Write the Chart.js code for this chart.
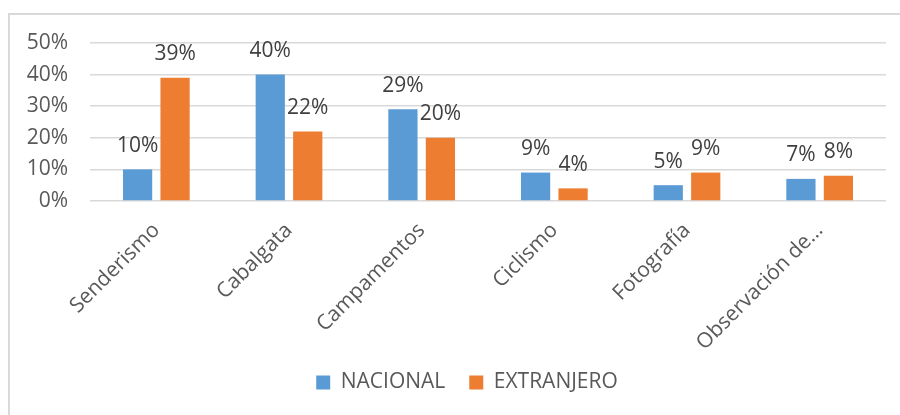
<!DOCTYPE html>
<html>
<head>
<meta charset="utf-8">
<script src="https://cdn.jsdelivr.net/npm/chart.js@4.4.1/dist/chart.umd.min.js"></script>
<style>
  html, body { margin: 0; padding: 0; background: #ffffff; }
  #wrap { width: 900px; height: 415px; position: relative; }
</style>
</head>
<body>
<div id="wrap"><canvas id="c" width="900" height="415"></canvas></div>
<script>
const categories = ['Senderismo', 'Cabalgata', 'Campamentos', 'Ciclismo', 'Fotografía', 'Observación de…'];
const nacional = [10, 40, 29, 9, 5, 7];
const extranjero = [39, 22, 20, 4, 9, 8];
const seriesNames = ['NACIONAL', 'EXTRANJERO'];

const FONT = "'Open Sans', sans-serif";

const framePlugin = {
  id: 'frame',
  afterLayout(chart) {
    if (chart.legend) {
      chart.legend.left += 24;
      chart.legend.right += 24;
    }
  },
  beforeDraw(chart) {
    const ctx = chart.ctx;
    ctx.save();
    ctx.fillStyle = '#ffffff';
    ctx.fillRect(0, 0, chart.width, chart.height);
    ctx.strokeStyle = '#d9d9d9';
    ctx.lineWidth = 2;
    ctx.beginPath();
    ctx.moveTo(9, chart.height + 2);
    ctx.lineTo(9, 14);
    ctx.lineTo(chart.width + 2, 14);
    ctx.stroke();
    ctx.restore();
  }
};

const labelPlugin = {
  id: 'barLabels',
  afterDatasetsDraw(chart) {
    const ctx = chart.ctx;
    ctx.save();
    ctx.font = '21px ' + FONT;
    ctx.fillStyle = '#404040';
    ctx.textAlign = 'center';
    ctx.textBaseline = 'bottom';
    chart.data.datasets.forEach((ds, i) => {
      const meta = chart.getDatasetMeta(i);
      meta.data.forEach((bar, j) => {
        ctx.fillText(ds.data[j] + '%', bar.x, bar.y - 13);
      });
    });
    ctx.restore();
  }
};

new Chart(document.getElementById('c'), {
  type: 'bar',
  data: {
    labels: categories,
    datasets: [
      { label: seriesNames[0], data: nacional, backgroundColor: '#5b9bd5' },
      { label: seriesNames[1], data: extranjero, backgroundColor: '#ed7d31' }
    ]
  },
  options: {
    responsive: false,
    animation: false,
    devicePixelRatio: 1,
    layout: { padding: { top: 43, right: 14, left: 0, bottom: 12 } },
    datasets: { bar: { categoryPercentage: 0.565, barPercentage: 0.78 } },
    scales: {
      x: {
        grid: { display: false },
        border: { display: false },
        ticks: {
          font: { family: FONT, size: 21 },
          color: '#595959',
          minRotation: 45,
          maxRotation: 45,
          padding: 9
        },
        afterFit(scale) { scale.height = 147; }
      },
      y: {
        min: 0,
        max: 50,
        grid: { color: '#d9d9d9', lineWidth: 1.5, drawTicks: false },
        border: { display: false },
        ticks: {
          stepSize: 10,
          font: { family: FONT, size: 21 },
          color: '#595959',
          padding: 22,
          callback: v => v + '%'
        },
        afterFit(scale) { scale.width = 90; }
      }
    },
    plugins: {
      legend: {
        position: 'bottom',
        labels: {
          font: { family: FONT, size: 21 },
          color: '#595959',
          boxWidth: 14,
          boxHeight: 14,
          padding: 24
        }
      },
      tooltip: { enabled: false }
    }
  },
  plugins: [framePlugin, labelPlugin]
});
</script>
</body>
</html>
